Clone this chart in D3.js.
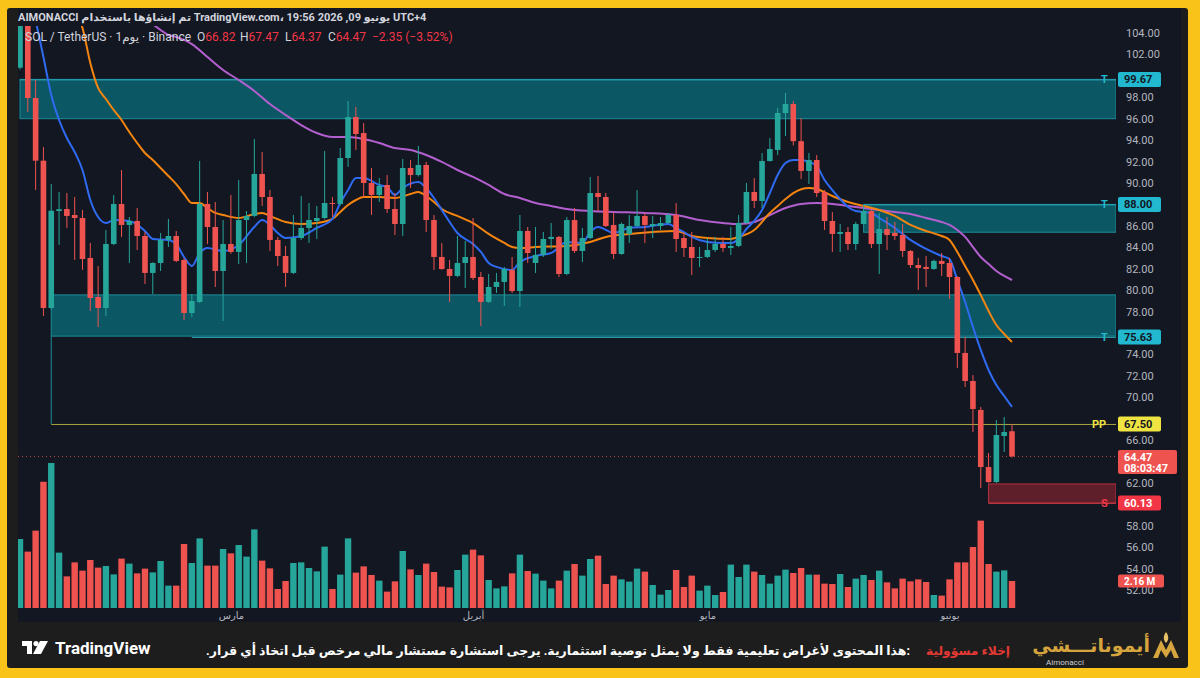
<!DOCTYPE html>
<html>
<head>
<meta charset="utf-8">
<script src="https://cdn.jsdelivr.net/npm/d3@7"></script>
<style>
  body { margin: 0; background: #f9c31a; overflow: hidden; }
  text { font-family: Roboto, "DejaVu Sans", sans-serif; }
</style>
</head>
<body>
<script>
  // ---- data (SOL / TetherUS daily, Binance) ----
  const opens = [100.76,105.3,97.93,92.08,78.33,87.38,87.57,87.01,86.73,83.0,79.35,78.33,84.3,88.04,86.08,86.45,85.05,81.6,82.53,84.68,
    85.05,82.81,77.86,78.89,88.04,85.89,81.78,84.3,83.56,86.54,86.92,90.84,88.69,84.68,83.18,81.6,84.86,85.8,86.45,86.73,
    88.13,88.04,92.33,96.16,94.66,90.0,88.88,89.81,87.57,86.17,91.4,90.74,91.68,86.54,83.09,81.97,81.32,82.53,83.09,81.22,
    78.89,80.29,80.76,81.88,79.91,85.52,82.53,83.28,84.77,84.96,81.5,86.54,83.65,84.86,89.06,88.69,86.08,83.37,85.24,85.98,
    86.92,85.98,85.98,86.26,87.01,84.86,84.02,83.0,83.09,83.74,84.3,83.93,84.12,86.26,89.16,88.32,92.05,93.08,96.53,97.37,
    93.9,91.12,92.14,89.16,86.45,85.24,85.42,84.3,86.17,87.38,84.3,85.7,85.33,85.14,83.65,82.34,82.16,81.97,82.72,82.53,
    81.22,74.13,71.51,68.81,63.48,62.08,66.38,66.82];
  const highs = [105.9,105.6,99.61,93.36,89.9,89.16,89.06,88.69,87.48,84.4,82.25,85.61,88.88,91.21,86.82,87.66,85.42,82.6,85.33,86.64,
    85.52,83.0,79.63,92.05,89.16,88.22,86.54,88.88,90.28,87.38,94.1,92.89,89.34,84.96,84.12,87.01,88.78,88.13,87.85,92.98,
    88.69,93.26,97.65,97.09,95.6,91.4,90.46,90.74,89.06,92.24,92.14,93.45,91.96,87.01,84.4,82.81,85.05,84.58,86.73,81.69,
    81.5,81.6,82.16,83.09,87.01,85.89,85.89,85.42,86.26,85.05,86.82,87.66,85.8,90.56,90.65,89.06,87.2,86.3,87.01,89.34,
    87.2,86.92,86.82,87.2,88.13,85.42,85.42,84.02,84.86,84.96,84.96,85.89,87.01,90.0,90.46,92.8,94.2,97.0,98.4,97.65,
    96.06,92.8,92.61,89.34,87.29,86.17,85.89,86.36,87.94,87.48,87.2,86.82,86.36,86.17,83.74,83.0,83.18,82.85,83.46,83.0,
    81.3,75.62,72.07,69.09,64.79,67.87,68.15,67.47];
  const lows = [100.6,96.63,89.34,77.58,78.2,84.21,85.8,82.81,81.88,78.05,76.55,77.58,84.2,84.96,82.53,83.74,80.57,79.63,81.78,84.02,
    82.6,77.21,77.49,78.79,84.3,80.29,77.11,83.4,82.44,82.53,86.8,87.85,83.65,82.25,80.29,81.5,84.68,84.4,84.77,86.6,
    86.82,87.9,91.5,93.08,88.69,87.01,88.22,87.2,85.14,85.05,89.53,90.6,85.42,81.88,81.9,78.89,81.2,80.19,80.94,76.65,
    78.8,79.73,78.51,79.73,78.42,82.53,81.6,83.09,83.84,81.22,81.4,83.46,82.62,84.75,87.38,85.89,82.9,83.3,84.4,85.9,
    84.4,84.86,85.61,86.2,83.56,83.09,81.41,82.16,83.0,83.56,83.56,83.28,84.0,86.2,87.66,87.66,92.0,92.61,94.38,93.5,
    90.37,89.9,88.69,85.61,83.56,83.56,83.74,83.74,86.1,83.93,81.5,83.74,84.68,83.09,82.06,80.01,80.29,81.9,81.32,79.17,
    72.73,70.95,66.75,61.52,62.0,61.99,64.88,64.37];
  const closes = [105.4,97.93,92.08,78.33,87.41,87.55,86.92,86.73,82.9,79.26,78.33,84.3,88.04,86.08,86.45,85.05,81.6,82.53,84.68,85.05,
    82.72,77.86,78.98,88.04,85.89,81.78,84.3,83.56,86.54,86.92,90.84,88.69,84.68,83.18,81.6,84.86,85.8,86.54,86.73,88.13,
    88.04,92.33,96.16,94.57,90.0,88.88,89.72,87.57,86.17,91.4,90.74,91.68,86.54,83.09,81.97,81.32,82.53,83.09,81.13,78.89,
    80.29,80.76,81.97,79.91,85.52,83.46,83.28,84.77,84.96,81.5,86.54,83.65,84.86,89.06,88.69,85.98,83.37,86.17,85.98,86.92,
    86.08,86.17,86.26,87.01,84.77,83.93,83.0,83.09,83.74,84.3,83.93,84.12,86.26,89.16,88.32,92.05,93.17,96.53,97.37,93.9,
    91.12,92.14,89.06,86.45,85.24,85.42,84.3,86.17,87.38,84.3,85.7,85.14,85.05,83.65,82.34,82.06,81.97,82.72,82.44,81.22,
    74.13,71.51,68.9,63.48,62.08,66.47,66.75,64.47];
  // volume in millions
  const volumes = [5.52,4.51,6.19,10.1,11.6,4.43,2.53,3.65,2.99,3.84,3.23,3.36,2.69,3.95,3.55,2.77,3.15,2.85,3.76,1.79,
    1.79,5.12,3.6,5.57,3.39,3.39,4.72,4.37,5.04,4.11,6.29,3.79,3.17,1.52,2.16,3.6,3.65,3.2,2.93,4.91,
    1.52,2.67,5.57,2.83,3.33,2.64,2.19,1.31,2.13,4.56,3.09,2.64,3.55,2.88,1.71,1.65,3.04,4.27,4.67,4.21,
    2.24,1.57,1.73,2.77,4.27,2.96,2.75,2.19,1.57,2.19,2.99,3.52,2.59,3.92,4.19,1.92,2.59,2.29,2.11,3.15,
    2.91,1.84,1.07,1.44,3.04,1.68,2.59,1.39,1.79,1.04,1.28,3.47,2.48,3.47,2.91,2.64,1.95,2.59,3.07,2.8,
    3.2,2.67,2.67,1.95,1.92,2.72,1.68,2.35,2.64,2.24,2.99,2.05,1.57,2.35,2.13,2.29,2.08,1.04,0.99,2.29,
    3.65,3.65,4.88,6.99,3.52,2.91,3.01,2.16];

  // moving averages: [candle index, price]
  const maBlue = [[2,105.2],[3,101.76],[4,98.21],[5,95.88],[6,94.2],[7,92.89],[8,91.21],[9,88.41],[10,86.82],[11,86.26],[12,86.54],[14,86.45],
    [16,85.52],[17,84.77],[19,84.68],[20,84.3],[21,83.09],[22,82.25],[23,83.46],[24,83.93],[26,83.65],[28,84.21],[30,85.89],[31,86.54],
    [32,86.08],[33,85.33],[34,84.86],[36,85.05],[38,85.8],[40,86.64],[41,88.13],[42,89.34],[43,90.46],[44,90.46],[46,89.81],[47,89.62],
    [48,88.88],[49,89.53],[51,90.09],[52,89.53],[53,88.6],[54,87.48],[55,86.36],[56,85.33],[58,84.3],[59,83.56],[60,82.53],[61,82.16],
    [63,81.88],[64,82.62],[66,83.18],[68,83.46],[70,84.49],[72,84.4],[73,85.42],[74,85.89],[76,85.33],[78,85.8],[80,85.89],[83,86.17],
    [84,85.8],[85,85.42],[86,84.96],[88,84.49],[90,84.4],[91,84.4],[92,84.77],[93,85.7],[94,86.45],[95,87.48],[96,89.06],[97,90.74],
    [98,91.86],[99,92.14],[100,92.14],[101,91.96],[102,91.58],[103,90.28],[104,89.34],[105,88.5],[106,87.76],[107,87.38],[109,87.2],
    [110,86.73],[112,85.8],[114,84.68],[116,83.84],[118,83.18],[119,82.9],[120,80.94],[121,78.89],[122,76.55],[123,74.41],[124,72.54],
    [125,71.14],[126,70.11],[127,69.09]];
  const maOrange = [[7,105.96],[8,104.47],[9,101.2],[10,98.87],[11,97.84],[12,96.81],[13,95.88],[14,94.76],[15,93.73],[16,92.8],[17,92.14],
    [18,91.4],[19,90.65],[20,89.9],[21,88.97],[22,88.13],[23,88.13],[24,87.66],[25,87.2],[26,87.01],[28,86.73],[30,87.1],[31,87.2],
    [32,86.92],[34,86.36],[36,86.17],[38,86.26],[40,86.64],[41,87.29],[42,87.94],[43,88.41],[44,88.69],[46,88.69],[48,88.6],[50,88.97],
    [51,89.16],[52,88.78],[53,88.22],[54,87.57],[56,86.92],[58,86.26],[60,85.24],[62,84.4],[63,84.02],[64,83.93],[66,84.02],[70,84.12],
    [73,84.49],[75,84.96],[78,85.24],[81,85.42],[84,85.52],[86,85.05],[88,84.86],[91,84.77],[92,84.96],[94,85.61],[96,87.2],[97,87.85],
    [98,88.5],[99,89.06],[101,89.53],[102,89.43],[104,88.78],[106,88.22],[108,87.85],[110,87.48],[112,86.92],[114,86.08],[116,85.52],
    [118,85.05],[119,84.68],[120,83.56],[121,82.25],[122,80.94],[123,79.54],[124,78.05],[125,76.74],[126,75.9],[127,75.15]];
  const maPurple = [[16,105.68],[17,104.84],[18,104.28],[19,103.81],[20,103.63],[21,103.35],[22,102.97],[24,101.76],[26,100.55],[28,99.61],
    [30,98.59],[32,97.37],[34,96.35],[36,95.41],[38,94.66],[40,94.29],[42,94.29],[44,94.1],[46,93.73],[48,93.26],[50,93.08],[52,92.61],
    [54,91.96],[56,91.21],[58,90.56],[60,89.81],[62,88.97],[64,88.6],[66,88.13],[68,87.85],[70,87.57],[73,87.38],[76,87.29],[80,87.2],
    [84,87.01],[87,86.54],[90,86.26],[92,86.17],[94,86.36],[96,87.01],[98,87.66],[100,88.04],[102,88.13],[104,88.04],[106,87.85],
    [108,87.66],[111,87.38],[114,87.1],[116,86.73],[118,86.36],[119,86.08],[120,85.61],[121,84.96],[122,84.02],[123,83.09],[124,82.44],
    [125,81.78],[126,81.32],[127,80.94]];

  // drawn zones and levels
  const zones = [
    {start: 0, top: 99.67, bottom: 96.0, kind: 'supply'},
    {start: 108, top: 88.0, bottom: 85.4, kind: 'supply'},
    {start: 4, top: 79.55, bottom: 75.7, kind: 'supply'},
    {start: 124, top: 61.9, bottom: 60.13, kind: 'stop'}
  ];
  const levels = [
    {price: 99.67, tag: 'T', start: 0, kind: 'target'},
    {price: 88.00, tag: 'T', start: 108, kind: 'target'},
    {price: 75.63, tag: 'T', start: 22, kind: 'target'},
    {price: 67.50, tag: 'PP', start: 4, kind: 'pivot'},
    {price: 60.13, tag: 'S', start: 124, kind: 'stop'}
  ];
  const lastPrice = 64.47;

  const priceTicks = d3.range(52, 104.01, 2);
  const monthStarts = [new Date(Date.UTC(2026,2,1)), new Date(Date.UTC(2026,3,1)), new Date(Date.UTC(2026,4,1)), new Date(Date.UTC(2026,5,1))];
  const monthNames = ['مارس', 'أبريل', 'مايو', 'يونيو'];
  const dates = opens.map((d, i) => new Date(Date.UTC(2026, 1, 2 + i)));

  const W = 1200, H = 678;
  const pane = {left: 18, right: 1116, top: 26, bottom: 608};
  const upColor = '#26a69a', downColor = '#ef5350';
  const kindColor = {target: '#22b8cf', pivot: '#f0e442', stop: '#f23645'};

  const svg = d3.select('body').append('svg')
    .attr('width', W).attr('height', H);

  // frame
  svg.append('rect').attr('width', W).attr('height', H).attr('fill', '#f9c31a');
  svg.append('rect').attr('x', 7).attr('y', 8).attr('width', 1181).attr('height', 660).attr('rx', 3).attr('fill', '#1d1d1d');
  svg.append('rect').attr('x', 18).attr('y', 8).attr('width', 1163).attr('height', 614).attr('fill', '#131722');

  const x = d3.scaleUtc()
    .domain([dates[0], dates[dates.length - 1]])
    .range([20, 1012]);
  const y = d3.scaleLinear()
    .domain([52, 104])
    .range([590, 33]);
  const yVol = d3.scaleLinear()
    .domain([0, 1])
    .range([pane.bottom, pane.bottom - 12.5]);

  svg.append('clipPath').attr('id', 'pane')
    .append('rect')
    .attr('x', pane.left).attr('y', pane.top)
    .attr('width', pane.right - pane.left).attr('height', pane.bottom - pane.top + 2);

  const g = svg.append('g').attr('clip-path', 'url(#pane)');

  // zones
  g.selectAll('.zone').data(zones).enter().append('rect')
    .attr('class', 'zone')
    .attr('x', d => x(dates[d.start]))
    .attr('y', d => y(d.top))
    .attr('width', d => pane.right - x(dates[d.start]))
    .attr('height', d => y(d.bottom) - y(d.top))
    .attr('fill', d => d.kind == 'stop' ? '#5e1f2b' : '#0b5764')
    .attr('stroke', d => d.kind == 'stop' ? '#b8323f' : '#1d8c9a')
    .attr('stroke-width', 1);

  // pivot connector
  g.append('line')
    .attr('x1', x(dates[4])).attr('x2', x(dates[4]))
    .attr('y1', y(75.7)).attr('y2', y(67.5))
    .attr('stroke', '#1d8c9a').attr('stroke-width', 1);

  // level lines
  g.selectAll('.level').data(levels).enter().append('line')
    .attr('class', 'level')
    .attr('x1', d => x(dates[d.start]))
    .attr('x2', pane.right)
    .attr('y1', d => y(d.price) + 0.5)
    .attr('y2', d => y(d.price) + 0.5)
    .attr('stroke', d => d.kind == 'pivot' ? '#a9a43e' : d.kind == 'stop' ? '#c03844' : '#2aa7b8')
    .attr('stroke-width', 1);

  // current price line
  g.append('line')
    .attr('x1', pane.left).attr('x2', pane.right)
    .attr('y1', y(lastPrice)).attr('y2', y(lastPrice))
    .attr('stroke', '#c04a55').attr('stroke-width', 1).attr('stroke-dasharray', '1,3');

  // volume
  g.selectAll('.vol').data(volumes).enter().append('rect')
    .attr('class', 'vol')
    .attr('x', (d, i) => x(dates[i]) - 3.2)
    .attr('width', 6.4)
    .attr('y', d => yVol(d))
    .attr('height', d => pane.bottom - yVol(d))
    .attr('fill', (d, i) => closes[i] >= opens[i] ? upColor : downColor);

  // MAs
  const maLine = d3.line()
    .x(d => x(dates[d[0]]))
    .y(d => y(d[1]))
    .curve(d3.curveMonotoneX);
  [[maPurple, '#b35fcf'], [maOrange, '#f5850f'], [maBlue, '#2f6bf2']].forEach(function(m) {
    g.append('path')
      .attr('d', maLine(m[0]))
      .attr('fill', 'none')
      .attr('stroke', m[1])
      .attr('stroke-width', 2);
  });

  // candles
  const candle = g.selectAll('.candle').data(opens).enter().append('g').attr('class', 'candle');
  candle.append('line')
    .attr('x1', (d, i) => x(dates[i])).attr('x2', (d, i) => x(dates[i]))
    .attr('y1', (d, i) => y(highs[i])).attr('y2', (d, i) => y(lows[i]))
    .attr('stroke', (d, i) => closes[i] >= opens[i] ? upColor : downColor)
    .attr('stroke-width', 1);
  candle.append('rect')
    .attr('x', (d, i) => x(dates[i]) - 2.8)
    .attr('width', 5.6)
    .attr('y', (d, i) => y(Math.max(opens[i], closes[i])))
    .attr('height', (d, i) => Math.max(1, Math.abs(y(opens[i]) - y(closes[i]))))
    .attr('fill', (d, i) => closes[i] >= opens[i] ? upColor : downColor);

  // level tags inside the pane
  svg.selectAll('.tag').data(levels).enter().append('text')
    .attr('class', 'tag')
    .attr('x', d => d.tag == 'PP' ? 1092 : 1101)
    .attr('y', d => y(d.price) + 4)
    .attr('font-size', 11).attr('font-weight', 'bold')
    .attr('fill', d => kindColor[d.kind])
    .text(d => d.tag);

  // price axis (labels hidden under a badge are left out)
  const badgeYs = levels.map(d => y(d.price));
  const lastY = y(lastPrice) + 5.5;
  const shownTicks = priceTicks.filter(t =>
    badgeYs.every(b => Math.abs(y(t) - b) > 9.5) && Math.abs(y(t) - lastY) > 14);
  const yAxis = d3.axisRight(y)
    .tickValues(shownTicks)
    .tickSize(0)
    .tickPadding(9)
    .tickFormat(d3.format('.2f'));
  const ya = svg.append('g')
    .attr('transform', 'translate(1117,0)')
    .call(yAxis);
  ya.select('.domain').remove();
  ya.selectAll('text').attr('fill', '#b2b5be').attr('font-size', 11).attr('font-family', 'Roboto, sans-serif');

  // axis badges
  function badge(yc, h, fill, lines, textColor, w, fs) {
    svg.append('rect').attr('x', 1118).attr('y', yc - h / 2).attr('width', w || 43).attr('height', h)
      .attr('rx', 2).attr('fill', fill);
    lines.forEach(function(t, k) {
      svg.append('text').attr('x', 1124).attr('y', yc - h / 2 + (fs ? 10 : 11.5) + k * 11)
        .attr('font-size', fs || 11).attr('font-weight', 'bold')
        .attr('fill', textColor).text(t);
    });
  }
  levels.forEach(function(d) {
    badge(y(d.price), 15, kindColor[d.kind], [d3.format('.2f')(d.price)], d.kind == 'stop' ? '#ffffff' : '#131722');
  });
  badge(lastY, 24, '#ef5350', [d3.format('.2f')(lastPrice), '08:03:47'], '#ffffff', 59);
  badge(yVol(volumes[volumes.length - 1]), 13, '#ef5350', [volumes[volumes.length - 1].toFixed(2) + ' M'], '#ffffff', 46, 10);

  // time axis
  const xAxis = d3.axisBottom(x)
    .tickValues(monthStarts)
    .tickSize(0)
    .tickPadding(4)
    .tickFormat((d, i) => monthNames[i]);
  const xa = svg.append('g')
    .attr('transform', 'translate(0,' + pane.bottom + ')')
    .call(xAxis);
  xa.select('.domain').remove();
  xa.selectAll('text').attr('fill', '#b2b5be').attr('font-size', 10).attr('font-family', '"DejaVu Sans", sans-serif');

  // header
  svg.append('text')
    .attr('x', 18).attr('y', 21)
    .attr('font-size', 11).attr('font-weight', 'bold')
    .attr('fill', '#d1d4dc')
    .text('AIMONACCI تم إنشاؤها باستخدام TradingView.com، 19:56 2026 ,09 يونيو UTC+4');

  svg.append('text')
    .attr('x', 25).attr('y', 41)
    .attr('font-size', 12)
    .attr('fill', '#d1d4dc')
    .text('SOL / TetherUS · 1يوم · Binance');
  [['O', '66.82', 197], ['H', '67.47', 240], ['L', '64.37', 285], ['C', '64.47', 328]].forEach(function(p) {
    const t = svg.append('text').attr('x', p[2]).attr('y', 41).attr('font-size', 12).attr('fill', '#d1d4dc');
    t.append('tspan').text(p[0]);
    t.append('tspan').attr('fill', '#f23645').text(p[1]);
  });
  svg.append('text').attr('x', 372).attr('y', 41).attr('font-size', 12)
    .attr('fill', '#f23645').text('−2.35 (−3.52%)');

  // footer
  const tv = svg.append('g').attr('transform', 'translate(22,641)');
  tv.append('path').attr('d', 'M0,0 H10 V13 H5 V5 H0 Z').attr('fill', '#ffffff');
  tv.append('circle').attr('cx', 14).attr('cy', 2.6).attr('r', 2.6).attr('fill', '#ffffff');
  tv.append('path').attr('d', 'M18,0 H26 L19,13 H11 Z').attr('fill', '#ffffff');
  svg.append('text')
    .attr('x', 55).attr('y', 654)
    .attr('font-size', 17).attr('font-weight', 'bold')
    .attr('fill', '#ffffff')
    .text('TradingView');

  // disclaimer: right-to-left text, font size fitted to the width it takes in the picture
  function fitRtl(xRight, width, fill, str) {
    const t = svg.append('text')
      .attr('x', xRight).attr('y', 655)
      .attr('direction', 'rtl')
      .attr('font-size', 13).attr('font-weight', 'bold')
      .attr('font-family', '"DejaVu Sans", sans-serif')
      .attr('fill', fill)
      .text(str);
    const natural = t.node().getComputedTextLength();
    t.attr('font-size', Math.min(15, 13 * width / natural));
  }
  fitRtl(1010, 84, '#e53935', 'إخلاء مسؤولية');
  fitRtl(910, 704, '#ffffff', ':هذا المحتوى لأغراض تعليمية فقط ولا يمثل توصية استثمارية. يرجى استشارة مستشار مالي مرخص قبل اتخاذ أي قرار.');

  // brand mark
  svg.append('text')
    .attr('x', 1150).attr('y', 652)
    .attr('direction', 'rtl')
    .attr('font-size', 19).attr('font-weight', 'bold')
    .attr('font-family', '"DejaVu Sans", sans-serif')
    .attr('fill', '#d6a53e')
    .text('أيموناتـــشي');
  svg.append('text')
    .attr('x', 1046).attr('y', 665)
    .attr('font-size', 8)
    .attr('fill', '#cfcfcf')
    .text('Aimonacci');
  const logo = svg.append('g').attr('transform', 'translate(1153,632)');
  logo.append('path').attr('d', 'M0,26 L8,8 L13,18 L18,8 L26,26 L21,26 L18,18 L13,26 L8,18 L5,26 Z').attr('fill', '#d6a53e');
  logo.append('path').attr('d', 'M13,0 C16,4 16,8 13,11 C10,8 10,4 13,0 Z').attr('fill', '#e8c066');
</script>
</body>
</html>
